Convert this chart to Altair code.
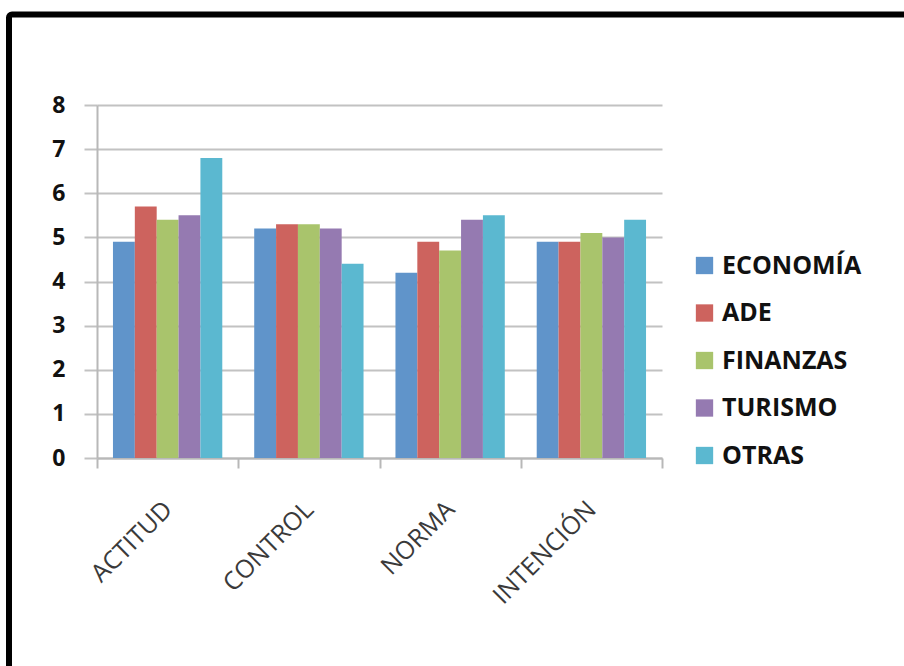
import altair as alt
import pandas as pd

categories = ["ACTITUD", "CONTROL", "NORMA", "INTENCIÓN"]
series = ["ECONOMÍA", "ADE", "FINANZAS", "TURISMO", "OTRAS"]
economia = [4.9, 5.2, 4.2, 4.9]
ade = [5.7, 5.3, 4.9, 4.9]
finanzas = [5.4, 5.3, 4.7, 5.1]
turismo = [5.5, 5.2, 5.4, 5.0]
otras = [6.8, 4.4, 5.5, 5.4]
y_ticks = [0, 1, 2, 3, 4, 5, 6, 7, 8]
colors = ["#6094CA", "#CD635E", "#A9C46C", "#957AB1", "#5BB8D0"]

values = [economia, ade, finanzas, turismo, otras]
rows = []
for s, vals in zip(series, values):
    for c, v in zip(categories, vals):
        rows.append({"cat": c, "serie": s, "valor": v})
df = pd.DataFrame(rows)

FONT = "Open Sans"

bars = alt.Chart(df).mark_bar().encode(
    x=alt.X("cat:N", sort=categories, title=None,
            scale=alt.Scale(paddingInner=0, paddingOuter=0),
            axis=alt.Axis(labelAngle=-45, labelAlign="right", labelBaseline="middle",
                          labelFontSize=25, labelFont=FONT, labelColor="#3a3a3a",
                          labelPadding=37, tickBand="extent", tickSize=10,
                          tickColor="#b8b8b8", tickWidth=2, domainColor="#b8b8b8",
                          domainWidth=2, grid=False)),
    xOffset=alt.XOffset("serie:N", sort=series,
                        scale=alt.Scale(paddingInner=0, paddingOuter=0.73)),
    y=alt.Y("valor:Q", title=None,
            scale=alt.Scale(domain=[0, 8], nice=False),
            axis=alt.Axis(values=y_ticks, labelFontSize=23, labelFont=FONT,
                          labelFontWeight="bold", labelColor="#111111",
                          labelPadding=19, tickSize=13, tickColor="#c2c2c2",
                          tickWidth=2, gridColor="#c2c2c2", gridWidth=2,
                          domainColor="#b8b8b8", domainWidth=2)),
    color=alt.Color("serie:N", sort=series,
                    scale=alt.Scale(domain=series, range=colors),
                    legend=alt.Legend(title=None, orient="none", legendX=595, legendY=148,
                                      symbolType="square", symbolSize=300,
                                      symbolStrokeWidth=0, labelFontSize=25,
                                      labelFont=FONT, labelColor="#111111",
                                      labelFontWeight="bold", rowPadding=21.5,
                                      labelOffset=5)),
)

frame = alt.Chart(pd.DataFrame({"a": [0]})).mark_rect(
    fill=None, stroke="black", strokeWidth=6, cornerRadius=3, clip=False
).encode(
    x=alt.value(-88), x2=alt.value(900),
    y=alt.value(-90.5), y2=alt.value(700),
)

chart = alt.layer(bars, frame).properties(
    width=565, height=353,
    autosize=alt.AutoSizeParams(type="none"),
    padding={"left": 97, "top": 105, "right": 242, "bottom": 208},
    background="white",
).configure_view(stroke=None)

chart.save("out.html", embed_options={"renderer": "svg", "actions": False})
